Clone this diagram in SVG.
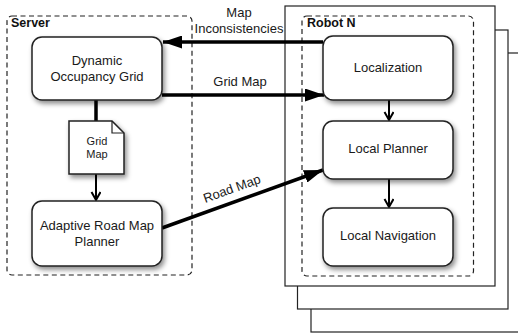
<svg xmlns="http://www.w3.org/2000/svg" width="518" height="335" viewBox="0 0 518 335">
<style>
  text { font-family: "Liberation Sans", Arial, Helvetica, sans-serif; fill: #1a1a1a; }
  .lbl { font-size: 13px; text-anchor: middle; }
  .title { font-size: 12.5px; font-weight: bold; fill: #111; }
  .box { fill: #fff; stroke: #222; stroke-width: 1.5; filter: url(#sh); }
  .dash { fill: none; stroke: #222; stroke-width: 1.2; stroke-dasharray: 5 3.5; }
  .frame { fill: #fff; stroke: #222; stroke-width: 1.2; }
  .thick { stroke: #000; stroke-width: 3.5; fill: none; }
  .thin { stroke: #000; stroke-width: 2; fill: none; }
</style>
<defs>
  <filter id="sh" x="-20%" y="-20%" width="150%" height="160%">
    <feDropShadow dx="2" dy="3" stdDeviation="2.5" flood-color="#000" flood-opacity="0.45"/>
  </filter>
  <marker id="big" markerUnits="userSpaceOnUse" markerWidth="20" markerHeight="13" refX="19" refY="6.5" orient="auto">
    <path d="M0,0 L19,6.5 L0,13 z" fill="#000"/>
  </marker>
  <marker id="small" markerUnits="userSpaceOnUse" markerWidth="12" markerHeight="12" refX="9" refY="5" orient="auto">
    <path d="M1,0.5 L9,5 L1,9.5" fill="none" stroke="#000" stroke-width="2"/>
  </marker>
</defs>

<!-- robot stacked frames -->
<g id="robot-frames">
  <rect class="frame" x="311" y="53" width="212" height="279"/>
  <rect class="frame" x="297.5" y="30" width="210.5" height="279"/>
  <rect class="frame" x="285" y="6" width="210" height="280"/>
</g>

<g id="server-group">
  <rect class="dash" x="7" y="16" width="185" height="259" rx="5"/>
  <text class="title" x="11" y="27">Server</text>
</g>

<g id="robot-group">
  <rect class="dash" x="302" y="16" width="171.5" height="260" rx="5"/>
  <text class="title" x="307" y="27">Robot N</text>
</g>

<g id="connectors">
  <line class="thick" x1="323" y1="42" x2="163" y2="42" marker-end="url(#big)"/>
  <line class="thick" x1="162" y1="95" x2="324" y2="95" marker-end="url(#big)"/>
  <line class="thick" x1="162" y1="228" x2="323" y2="170" marker-end="url(#big)"/>
  <line class="thick" x1="96" y1="100" x2="96" y2="121"/>
  <line class="thin" x1="96" y1="174" x2="96" y2="200" marker-end="url(#small)"/>
  <line class="thin" x1="389" y1="100" x2="389" y2="120" marker-end="url(#small)"/>
  <line class="thin" x1="389" y1="179" x2="389" y2="207" marker-end="url(#small)"/>
  <text class="lbl" x="239" y="17">Map</text>
  <text class="lbl" x="239" y="33">Inconsistencies</text>
  <text class="lbl" x="240" y="86">Grid Map</text>
  <text class="lbl" transform="translate(232,189) rotate(-19.8)" x="0" y="4">Road Map</text>
</g>

<g id="dynamic-occupancy-grid">
  <rect class="box" x="32" y="37" width="130" height="63" rx="10"/>
  <text class="lbl" x="97" y="65">Dynamic</text>
  <text class="lbl" x="97" y="81">Occupancy Grid</text>
</g>

<g id="grid-map-doc">
  <path class="box" d="M69,121 L112,121 L124,133 L124,174 L69,174 Z"/>
  <path d="M112,121 L112,133 L124,133" fill="none" stroke="#222" stroke-width="1.2"/>
  <text x="97" y="145" style="font-size:11px;text-anchor:middle">Grid</text>
  <text x="97" y="158" style="font-size:11px;text-anchor:middle">Map</text>
</g>

<g id="adaptive-road-map-planner">
  <rect class="box" x="32" y="201" width="130" height="65" rx="10"/>
  <text class="lbl" x="97" y="230">Adaptive Road Map</text>
  <text class="lbl" x="97" y="246">Planner</text>
</g>

<g id="localization">
  <rect class="box" x="323" y="36" width="130" height="64" rx="10"/>
  <text class="lbl" x="388" y="72">Localization</text>
</g>

<g id="local-planner">
  <rect class="box" x="323" y="121" width="130" height="58" rx="10"/>
  <text class="lbl" x="388" y="153">Local Planner</text>
</g>

<g id="local-navigation">
  <rect class="box" x="323" y="208" width="130" height="58" rx="10"/>
  <text class="lbl" x="388" y="240">Local Navigation</text>
</g>
</svg>
